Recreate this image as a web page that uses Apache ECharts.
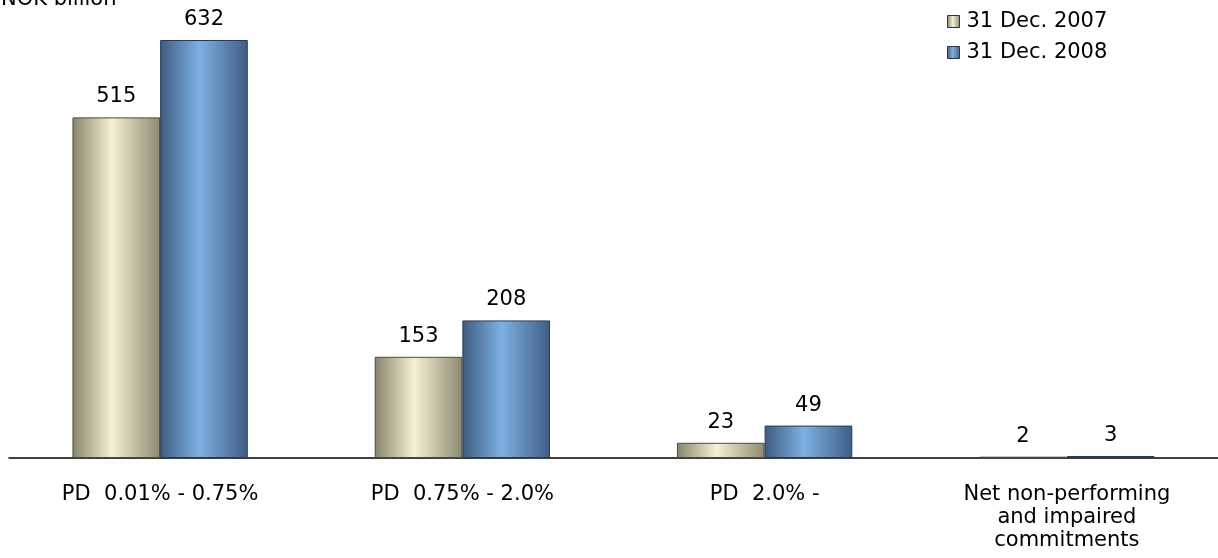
<!DOCTYPE html>
<html><head><meta charset="utf-8">
<script src="https://cdn.jsdelivr.net/npm/echarts@6/dist/echarts.min.js"></script>
<style>html,body{margin:0;padding:0;background:#fff}#c{width:1218px;height:558px}</style>
</head><body><div id="c"></div>
<script>
const categories = ['PD  0.01% - 0.75%', 'PD  0.75% - 2.0%', 'PD  2.0% -', 'Net non-performing\nand impaired\ncommitments'];
const seriesNames = ['31 Dec. 2007', '31 Dec. 2008'];
const values2007 = [515, 153, 23, 2];
const values2008 = [632, 208, 49, 3];
const unitLabel = 'NOK billion';

const font = 'DejaVu Sans';
const fs = 21;
function grad(dark, light, dark2) {
  return new echarts.graphic.LinearGradient(0, 0, 1, 0, [
    {offset: 0, color: dark}, {offset: 0.45, color: light}, {offset: 1, color: dark2}
  ]);
}
const c1 = grad('#87846c', '#f6f1d2', '#8c8972');
const c2 = grad('#3e5c80', '#7db0e3', '#3f5e84');
const chart = echarts.init(document.getElementById('c'));
chart.setOption({
  animation: false,
  title: {text: unitLabel, left: -4, top: -16, textStyle: {fontFamily: font, fontSize: fs, fontWeight: 'normal', color: '#000'}},
  legend: {
    orient: 'vertical', left: 947, top: 11, padding: 0, itemWidth: 12, itemHeight: 12, itemGap: 10,
    icon: 'rect',
    itemStyle: {borderColor: '#333', borderWidth: 1},
    textStyle: {fontFamily: font, fontSize: fs, color: '#000', padding: [0, 0, 0, 2]},
    data: seriesNames
  },
  grid: {left: 9, right: -3, top: 40, bottom: 100},
  xAxis: {
    type: 'category', data: categories,
    axisLine: {lineStyle: {color: '#000', width: 1.5}},
    axisTick: {show: false},
    axisLabel: {fontFamily: font, fontSize: fs, color: '#000', margin: 25, lineHeight: 23, interval: 0}
  },
  yAxis: {type: 'value', min: 0, max: 'dataMax', show: false, splitLine: {show: false}},
  series: [
    {name: seriesNames[0], type: 'bar', data: values2007, barGap: '0%', barCategoryGap: '42%',
     itemStyle: {color: c1, borderColor: '#4a4a3a', borderWidth: 1},
     label: {show: true, position: 'top', distance: 10, fontFamily: font, fontSize: fs, color: '#000'}},
    {name: seriesNames[1], type: 'bar', data: values2008,
     itemStyle: {color: c2, borderColor: '#2a3a50', borderWidth: 1},
     label: {show: true, position: 'top', distance: 10, fontFamily: font, fontSize: fs, color: '#000'}}
  ]
});
</script></body></html>
